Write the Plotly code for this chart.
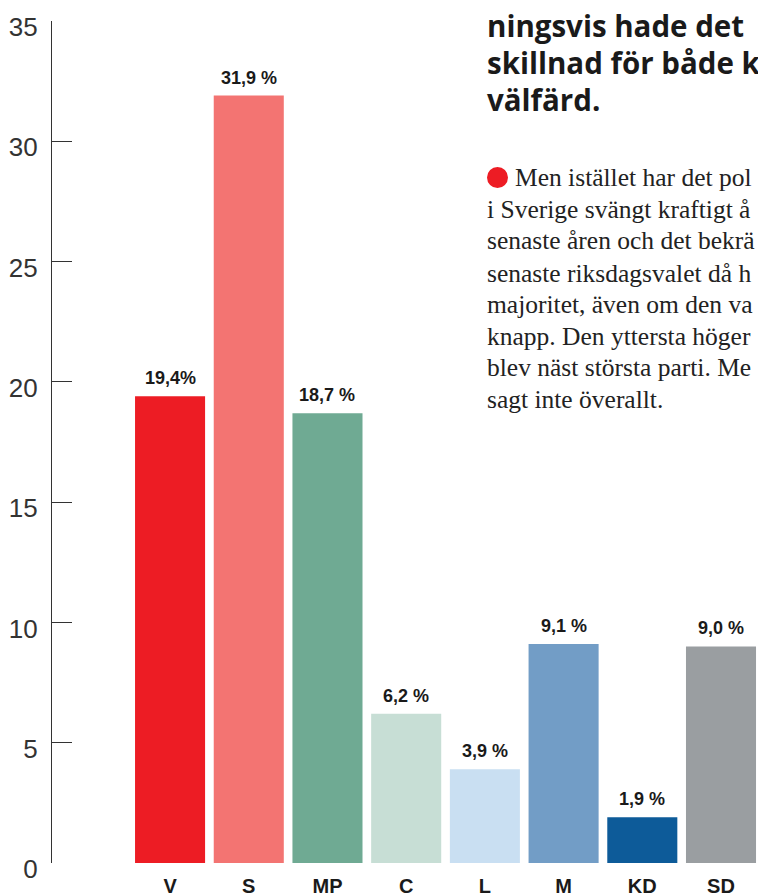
import plotly.graph_objects as go

parties = ["V", "S", "MP", "C", "L", "M", "KD", "SD"]
values = [19.4, 31.9, 18.7, 6.2, 3.9, 9.1, 1.9, 9.0]
value_labels = ["19,4%", "31,9 %", "18,7 %", "6,2 %", "3,9 %", "9,1 %", "1,9 %", "9,0 %"]
colors = ["#ED1C24", "#F37472", "#6FAA93", "#C7DED5", "#C9DFF2", "#729DC6", "#0D5B99", "#9A9EA1"]
y_ticks = [0, 5, 10, 15, 20, 25, 30, 35]

heading_lines = ["ningsvis hade det", "skillnad för både k", "välfärd."]
body_lines = [
    "Men istället har det pol",
    "i Sverige svängt kraftigt å",
    "senaste åren och det bekrä",
    "senaste riksdagsvalet då h",
    "majoritet, även om den va",
    "knapp. Den yttersta höger",
    "blev näst största parti. Me",
    "sagt inte överallt.",
]

W, H = 758, 895
ml, mr, mt, mb = 52, 0, 21, 32
pw, ph = W - ml - mr, H - mt - mb


def px(x):
    return (x - ml) / pw


def py(y):
    return (H - y - mb) / ph


fig = go.Figure()
fig.add_trace(go.Bar(
    x=parties, y=values, marker=dict(color=colors, line=dict(width=0)),
    width=0.89, hoverinfo="skip",
))

annotations = []
for p, v, lab in zip(parties, values, value_labels):
    annotations.append(dict(
        x=p, y=v, xref="x", yref="y", text="<b>" + lab + "</b>", showarrow=False,
        yanchor="bottom", yshift=6,
        font=dict(family="Liberation Sans", size=18, color="#1a1a1a"),
    ))

heading_y = [25, 62, 100]
for t, yp in zip(heading_lines, heading_y):
    annotations.append(dict(
        x=px(485), y=py(yp), xref="paper", yref="paper", text="<b>" + t + "</b>",
        showarrow=False, xanchor="left", yanchor="middle",
        font=dict(family="Open Sans", size=29.5, color="#1a1a1a"),
    ))

body_y = [178, 210, 241, 273, 304, 336, 367, 400]
body_x = [513, 485, 485, 485, 485, 485, 485, 485]
for t, xp, yp in zip(body_lines, body_x, body_y):
    annotations.append(dict(
        x=px(xp), y=py(yp), xref="paper", yref="paper", text=t,
        showarrow=False, xanchor="left", yanchor="middle",
        font=dict(family="Liberation Serif", size=25.5, color="#222222"),
    ))

shapes = [dict(
    type="circle", xref="paper", yref="paper",
    x0=px(487), x1=px(508), y0=py(188), y1=py(167),
    fillcolor="#ED1C24", line=dict(width=0),
)]

fig.update_layout(
    width=W, height=H,
    margin=dict(l=ml, r=mr, t=mt, b=mb),
    paper_bgcolor="white", plot_bgcolor="white",
    showlegend=False,
    bargap=0.11,
    hovermode=False,
    annotations=annotations,
    shapes=shapes,
    xaxis=dict(
        type="category", range=[-1.5, 7.47], showline=False, showgrid=False,
        zeroline=False, ticks="", ticklabelstandoff=9, automargin=False,
        fixedrange=True,
        tickfont=dict(family="Liberation Sans", size=20, color="#1a1a1a", weight="bold"),
    ),
    yaxis=dict(
        range=[0, 35], tickvals=y_ticks, ticktext=[str(v) for v in y_ticks],
        showline=True, linecolor="#333333", linewidth=1.2,
        ticks="inside", ticklen=20, tickcolor="#333333", tickwidth=1.2,
        showgrid=False, zeroline=False, ticklabelstandoff=8, ticklabelshift=6,
        automargin=False, fixedrange=True,
        tickfont=dict(family="Liberation Sans", size=26, color="#333333"),
    ),
)

fig.write_html(
    "out.html",
    config={"displayModeBar": False},
    post_script="document.body.style.margin='0';document.body.style.overflow='hidden';",
)
